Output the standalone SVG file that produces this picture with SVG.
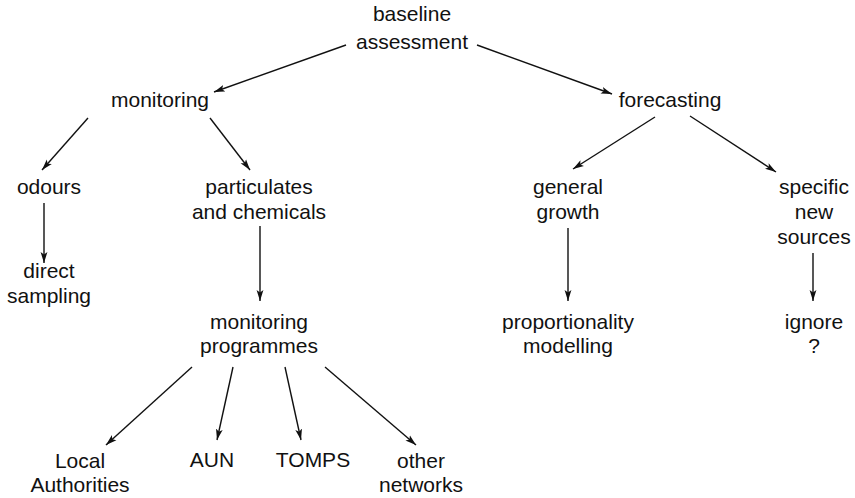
<svg xmlns="http://www.w3.org/2000/svg" width="855" height="498" viewBox="0 0 855 498">
  <style>
    .lbl { font-family: "Liberation Sans", Arial, Helvetica, sans-serif; font-size: 21px; fill: #111; text-anchor: middle; }
    .edge { stroke: #111; stroke-width: 1.4; fill: none; marker-end: url(#head); }
  </style>
  <defs>
    <marker id="head" markerUnits="userSpaceOnUse" markerWidth="12" markerHeight="8" refX="11" refY="4" orient="auto">
      <path d="M0,0.6 L11,4 L0,7.4 L2.5,4 Z" fill="#111"/>
    </marker>
  </defs>
  <rect width="855" height="498" fill="#fff"/>

  <g id="connectors">
    <line class="edge" x1="346" y1="45" x2="214" y2="92"/>
    <line class="edge" x1="477" y1="45" x2="612" y2="94"/>
    <line class="edge" x1="88" y1="118" x2="42" y2="170"/>
    <line class="edge" x1="210" y1="118" x2="250" y2="170"/>
    <line class="edge" x1="44" y1="203" x2="44" y2="263"/>
    <line class="edge" x1="260" y1="226" x2="260" y2="301"/>
    <line class="edge" x1="192" y1="367" x2="106" y2="445"/>
    <line class="edge" x1="233" y1="367" x2="217" y2="440"/>
    <line class="edge" x1="285" y1="367" x2="301" y2="440"/>
    <line class="edge" x1="325" y1="367" x2="416" y2="445"/>
    <line class="edge" x1="655" y1="117" x2="573" y2="169"/>
    <line class="edge" x1="690" y1="116" x2="776" y2="172"/>
    <line class="edge" x1="568" y1="228" x2="568" y2="301"/>
    <line class="edge" x1="813" y1="253" x2="813" y2="301"/>
  </g>

  <g id="baseline-assessment"><text class="lbl" x="412" y="21">baseline</text><text class="lbl" x="412" y="49">assessment</text></g>
  <g id="monitoring"><text class="lbl" x="160" y="107">monitoring</text></g>
  <g id="forecasting"><text class="lbl" x="670" y="107">forecasting</text></g>
  <g id="odours"><text class="lbl" x="49" y="194">odours</text></g>
  <g id="particulates"><text class="lbl" x="259" y="194">particulates</text><text class="lbl" x="259" y="219">and chemicals</text></g>
  <g id="direct-sampling"><text class="lbl" x="49" y="278">direct</text><text class="lbl" x="49" y="303">sampling</text></g>
  <g id="monitoring-programmes"><text class="lbl" x="259" y="329">monitoring</text><text class="lbl" x="259" y="353">programmes</text></g>
  <g id="local-authorities"><text class="lbl" x="80" y="468">Local</text><text class="lbl" x="80" y="492">Authorities</text></g>
  <g id="aun"><text class="lbl" x="212" y="467">AUN</text></g>
  <g id="tomps"><text class="lbl" x="313" y="467">TOMPS</text></g>
  <g id="other-networks"><text class="lbl" x="421" y="468">other</text><text class="lbl" x="421" y="492">networks</text></g>
  <g id="general-growth"><text class="lbl" x="568" y="194">general</text><text class="lbl" x="568" y="219">growth</text></g>
  <g id="specific-new-sources"><text class="lbl" x="814" y="194">specific</text><text class="lbl" x="814" y="219">new</text><text class="lbl" x="814" y="244">sources</text></g>
  <g id="proportionality-modelling"><text class="lbl" x="568" y="329">proportionality</text><text class="lbl" x="568" y="353">modelling</text></g>
  <g id="ignore"><text class="lbl" x="814" y="329">ignore</text><text class="lbl" x="814" y="353">?</text></g>
</svg>
